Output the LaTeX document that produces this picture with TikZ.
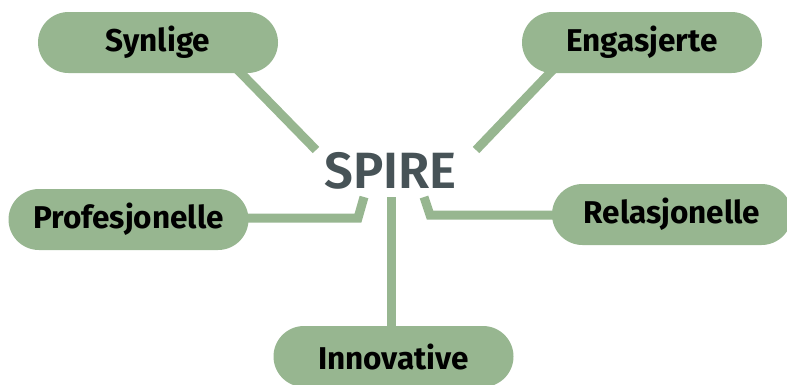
\documentclass[tikz,border=0pt]{standalone}
\usepackage{fontspec}
\setmainfont{Fira Sans}
\newfontfamily\spirefont{Fira Sans SemiBold}
\usetikzlibrary{backgrounds,calc}
\definecolor{leaf}{HTML}{97B690}
\definecolor{slate}{HTML}{475357}
\tikzset{
  pill/.style={fill=leaf, draw=none, rounded corners=30.5pt, minimum width=240pt,
    minimum height=61pt, inner sep=0pt, text=black,
    font=\fontsize{31.5}{31.5}\selectfont\bfseries},
  link/.style={draw=leaf, line width=9pt, line cap=butt, line join=miter}
}
\begin{document}
\begin{tikzpicture}[x=1pt,y=-1pt]
\useasboundingbox (0,0) rectangle (787,384);
\node[pill] (syn) at (158,42.5) {Synlige};
\node[pill] (eng) at (642,42.5) {Engasjerte};
\node[pill] (pro) at (128.5,219.5) {Profesjonelle};
\node[pill] (rel) at (672,214.5) {Relasjonelle};
\node[pill] (inn) at (393.5,356.5) {Innovative};
\node[anchor=base, inner sep=0pt, text=slate, font=\spirefont\fontsize{51}{51}\selectfont] (spire) at (390.5,188) {SPIRE};
\coordinate (s1) at (316,150);
\coordinate (e1) at (476,150);
\coordinate (p1) at (358,218);
\coordinate (p2) at (364,197);
\coordinate (r1) at (430,215);
\coordinate (r2) at (424,197);
\coordinate (i1) at (391,197);
\begin{pgfonlayer}{background}
\draw[link] ([xshift=53pt]syn.center) -- (s1);
\draw[link] ([xshift=-63pt]eng.center) -- (e1);
\draw[link] (pro.center |- p1) -- (p1) -- (p2);
\draw[link] (rel.center |- r1) -- (r1) -- (r2);
\draw[link] (i1) -- (i1 |- inn.center);
\end{pgfonlayer}
\end{tikzpicture}
\end{document}
